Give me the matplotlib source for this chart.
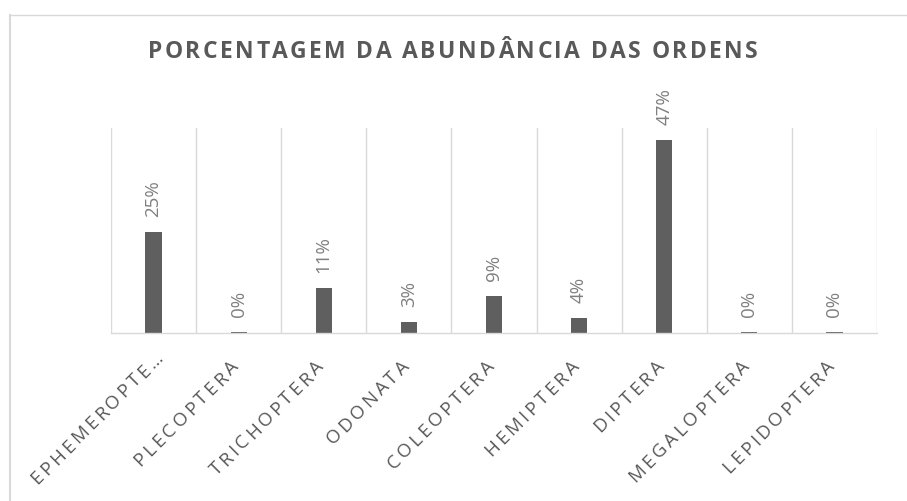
import numpy as np
import matplotlib
matplotlib.use('Agg')
import matplotlib.pyplot as plt
from matplotlib.font_manager import FontProperties, findfont, get_font
from matplotlib.lines import Line2D

# dados do grafico
ordens = ['EPHEMEROPTE…', 'PLECOPTERA', 'TRICHOPTERA', 'ODONATA', 'COLEOPTERA',
          'HEMIPTERA', 'DIPTERA', 'MEGALOPTERA', 'LEPIDOPTERA']
abundancia = [0.246, 0.002, 0.11, 0.026, 0.09, 0.037, 0.471, 0.002, 0.002]
titulo = 'PORCENTAGEM DA ABUNDÂNCIA DAS ORDENS'

W, H = 907, 501
cinza_txt = '#595959'
cinza_lbl = '#7f7f7f'
cinza_grade = '#d9d9d9'

fig = plt.figure(figsize=(W / 100, H / 100), dpi=100)
fig.patch.set_facecolor('white')
ax = fig.add_axes([111 / W, (H - 333) / H, (877 - 111) / W, (333 - 128) / H])

x = np.arange(len(ordens))
ax.bar(x, abundancia, width=0.19, color='#5f5f5f', zorder=3)
ax.set_xlim(-0.5, len(ordens) - 0.5)
ax.set_ylim(0, 0.5)

# grade vertical entre as categorias
ax.set_xticks(np.arange(-0.5, len(ordens)), minor=True)
ax.grid(axis='x', which='minor', color=cinza_grade, lw=1, zorder=0)
ax.set_xticks([])
ax.set_yticks([])
ax.tick_params(which='both', length=0)
for s in ['top', 'right', 'left']:
    ax.spines[s].set_visible(False)
ax.spines['bottom'].set_color(cinza_grade)
ax.spines['bottom'].set_linewidth(1)
ax.spines['bottom'].set_zorder(4)

# rotulos de dados
for xi, v in zip(x, abundancia):
    ax.annotate('{:.0%}'.format(v), (xi, v), xytext=(0, 11), textcoords='offset points',
                rotation=90, ha='center', va='bottom', fontsize=13.5,
                family=['Open Sans', 'DejaVu Sans'], color=cinza_lbl)


def avancos(s, prop):
    font = get_font(findfont(prop))
    font.set_size(prop.get_size_in_points(), 100)
    return [font.load_char(ord(c)).linearHoriAdvance / 65536 for c in s]


def texto_espacado(x0, y0, s, prop, esp, ang, cor):
    # desenha letra por letra com espacamento extra (pixels)
    adv = avancos(s, prop)
    c, sn = np.cos(np.radians(ang)), np.sin(np.radians(ang))
    pos = 0.0
    for ch, a in zip(s, adv):
        fig.text((x0 + pos * c) / W, (y0 + pos * sn) / H, ch, rotation=ang,
                 rotation_mode='anchor', ha='left', va='baseline',
                 fontproperties=prop, color=cor)
        pos += a + esp
    return pos - esp


def comprimento(s, prop, esp):
    return sum(avancos(s, prop)) + esp * (len(s) - 1)


# titulo
prop_t = FontProperties(family='Open Sans', weight='bold', size=16.5)
esp_t = 2.4
L = comprimento(titulo, prop_t, esp_t)
texto_espacado(453 - L / 2, H - 58, titulo, prop_t, esp_t, 0, cinza_txt)

# rotulos do eixo x (45 graus)
prop_x = FontProperties(family='Open Sans', size=13.5)
esp_x = 3.0
ang = 45
c45, s45 = np.cos(np.radians(ang)), np.sin(np.radians(ang))
for xi, nome in zip(x, ordens):
    cx, cy = ax.transData.transform((xi, 0))
    ex, ey = cx + 1, cy - 35
    if nome.endswith('…'):
        # rotulo truncado ocupa a caixa inteira
        ex, ey = ex + 13 * c45, ey + 13 * s45
    L = comprimento(nome, prop_x, esp_x)
    texto_espacado(ex - L * c45, ey - L * s45, nome, prop_x, esp_x, ang, cinza_txt)

# moldura do grafico (cortada na imagem)
fig.add_artist(Line2D([9.5 / W, 9.5 / W], [0, 1 - 15 / H], color=cinza_grade, lw=1.5,
                      transform=fig.transFigure))
fig.add_artist(Line2D([9.5 / W, 1], [1 - 15 / H, 1 - 15 / H], color=cinza_grade, lw=1,
                      transform=fig.transFigure))

fig.savefig('out.png', dpi=100, facecolor='white')
